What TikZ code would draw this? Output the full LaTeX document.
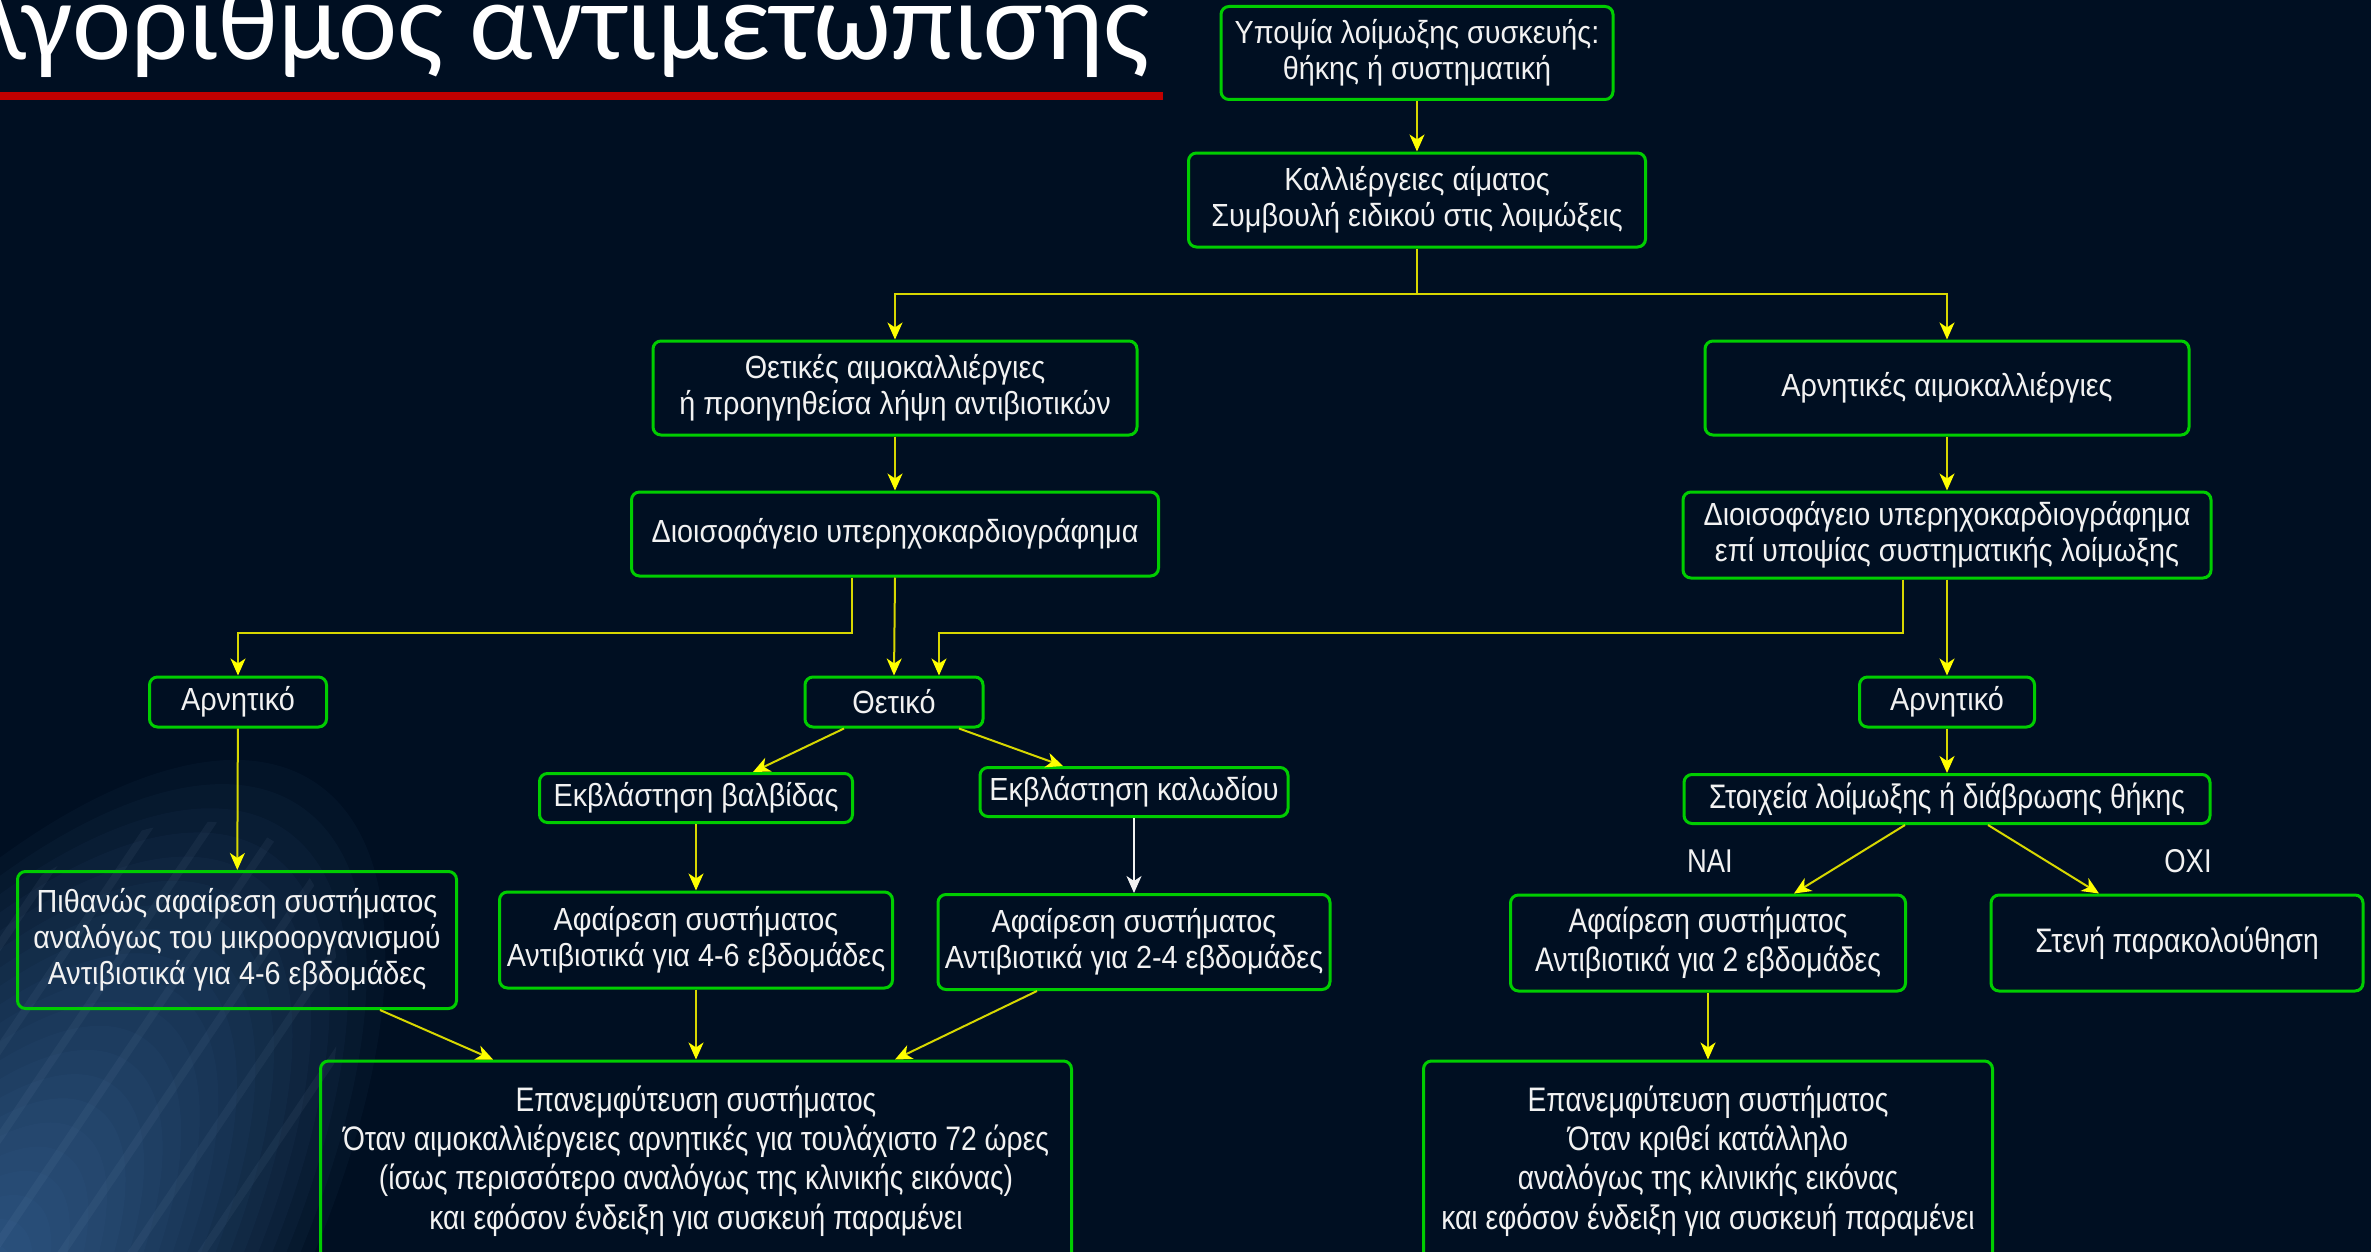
\documentclass[tikz,border=0pt]{standalone}
\usepackage{fontspec}
\setmainfont{Liberation Sans}[FakeStretch=0.9]
\newfontfamily\titlefont{Carlito}
\newfontfamily\narrowfont[FakeStretch=0.83]{Liberation Sans}
\usepackage{xcolor}
\definecolor{bgnavy}{RGB}{0,15,34}
\definecolor{glowblue}{RGB}{82,136,196}
\definecolor{boxgreen}{RGB}{0,205,0}
\definecolor{lineyellow}{RGB}{215,215,0}
\definecolor{headyellow}{RGB}{255,255,0}
\definecolor{textwhite}{RGB}{242,242,242}
\definecolor{titlered}{RGB}{192,0,0}
\usetikzlibrary{arrows.meta,positioning,calc}

\begin{document}
\begin{tikzpicture}[
  x=0.5pt, y=-0.5pt,
  every node/.style={text=textwhite,font=\fontsize{16}{18}\selectfont},
  flowbox/.style={draw=boxgreen,line width=1.5pt,rounded corners=4pt,align=center,inner sep=2pt},
  narrowbox/.style={flowbox,font=\narrowfont\fontsize{17}{19.6}\selectfont},
  boxsize/.style 2 args={minimum width=#1*0.5pt,minimum height=#2*0.5pt},
  arr/.style={draw=lineyellow,line width=1pt,-{Stealth[length=8.5pt,width=7.5pt,inset=2.5pt,color=headyellow]}},
  warr/.style={draw=textwhite,line width=1pt,-{Stealth[length=8.5pt,width=7.5pt,inset=2.5pt,color=textwhite]}},
  link/.style={draw=lineyellow,line width=1pt},
  glow/.style={rotate around={56:(-60,1340)}},
]
  \useasboundingbox (0,0) rectangle (2371,1252);

  % Background
  \fill[bgnavy] (0,0) rectangle (2371,1252);
  \foreach \k in {1,...,24}
    \fill[glowblue,opacity=0.045,glow] (-60,1340) ellipse ({28*\k} and {12*\k});
  \begin{scope}
    \clip[glow] (-60,1340) ellipse (600 and 260);
    \foreach \s/\l in {-300/900,-240/700,-170/850,-110/600,-40/760,30/520,100/640,170/420}
      \draw[glowblue!50!white,opacity=0.06,line width=4pt] (\s,1300) -- ++(-56:\l);
  \end{scope}

  % Title
  \node[font=\titlefont\fontsize{56}{58}\selectfont,text=white,anchor=base east,inner sep=0pt]
    (title) at (1150,60) {Αλγόριθμος αντιμετώπισης};
  \fill[titlered] (0,92) rectangle (1163,100);

  % Top of the tree
  \node[flowbox,boxsize={392}{93}] (susp) at (1417,53) {Υποψία λοίμωξης συσκευής:\\θήκης ή συστηματική};
  \node[flowbox,boxsize={457}{94}] (cult) at (1417,200) {Καλλιέργειες αίματος\\Συμβουλή ειδικού στις λοιμώξεις};
  \coordinate (split) at (1417,294);

  % Blood cultures
  \node[flowbox,boxsize={484}{94}] (pos) at (895,388) {Θετικές αιμοκαλλιέργιες\\ή προηγηθείσα λήψη αντιβιοτικών};
  \node[flowbox,boxsize={484}{94}] (neg) at (1947,388) {Αρνητικές αιμοκαλλιέργιες};

  % Echo
  \node[flowbox,boxsize={527}{84}] (teeL) at (895,534) {Διοισοφάγειο υπερηχοκαρδιογράφημα};
  \node[flowbox,boxsize={528}{86}] (teeR) at (1947,535) {Διοισοφάγειο υπερηχοκαρδιογράφημα\\επί υποψίας συστηματικής λοίμωξης};

  % Echo result
  \node[flowbox,boxsize={177}{50}] (negL) at (238,702) {Αρνητικό};
  \node[flowbox,boxsize={178}{50}] (posT) at (894,702) {Θετικό};
  \node[flowbox,boxsize={175}{50}] (negR) at (1947,702) {Αρνητικό};

  % Vegetations
  \node[flowbox,boxsize={313}{49}] (valv) at (696,798) {Εκβλάστηση βαλβίδας};
  \node[flowbox,boxsize={308}{49}] (lead) at (1134,792) {Εκβλάστηση καλωδίου};
  \node[narrowbox,boxsize={526}{49}] (evid) at (1947,799) {Στοιχεία λοίμωξης ή διάβρωσης θήκης};
  \node[font=\narrowfont\fontsize{16.5}{18}\selectfont] (yes) at (1710,861) {ΝΑΙ};
  \node[font=\narrowfont\fontsize{16.5}{18}\selectfont] (no) at (2188,861) {ΟΧΙ};

  % Treatment
  \node[flowbox,boxsize={439}{137}] (remL) at (237,940) {Πιθανώς αφαίρεση συστήματος\\αναλόγως του μικροοργανισμού\\Αντιβιοτικά για 4-6 εβδομάδες};
  \node[flowbox,boxsize={393}{96}] (rem46) at (696,940) {Αφαίρεση συστήματος\\Αντιβιοτικά για 4-6 εβδομάδες};
  \node[flowbox,boxsize={392}{95}] (rem24) at (1134,942) {Αφαίρεση συστήματος\\Αντιβιοτικά για 2-4 εβδομάδες};
  \node[narrowbox,boxsize={395}{96}] (remR) at (1708,943) {Αφαίρεση συστήματος\\Αντιβιοτικά για 2 εβδομάδες};
  \node[narrowbox,boxsize={372}{96}] (watch) at (2177,943) {Στενή παρακολούθηση};

  % Reimplantation
  \node[narrowbox,boxsize={751}{200}] (reimpL) at (696,1161) {Επανεμφύτευση συστήματος\\Όταν αιμοκαλλιέργειες αρνητικές για τουλάχιστο 72 ώρες\\(ίσως περισσότερο αναλόγως της κλινικής εικόνας)\\και εφόσον ένδειξη για συσκευή παραμένει};
  \node[narrowbox,boxsize={569}{200}] (reimpR) at (1708,1161) {Επανεμφύτευση συστήματος\\Όταν κριθεί κατάλληλο\\αναλόγως της κλινικής εικόνας\\και εφόσον ένδειξη για συσκευή παραμένει};

  % Connectors
  \draw[arr] (susp) -- (cult);
  \draw[link] (cult.south) -- (split);
  \draw[arr] (split) -| (pos.north);
  \draw[arr] (split) -| (neg.north);
  \draw[arr] (pos) -- (teeL);
  \draw[arr] (neg) -- (teeR);
  \draw[arr] ($(teeL.south)+(-43,0)$) -- ++(0,55) -| (negL.north);
  \draw[arr] (teeL.south) -- (posT.north);
  \draw[arr] ($(teeR.south)+(-44,0)$) -- ++(0,53) -| ($(posT.north)+(45,0)$);
  \draw[arr] (teeR) -- (negR);
  \draw[arr] (negL) -- (remL);
  \draw[arr] ($(posT.south)+(-50,0)$) -- ($(valv.north)+(57,0)$);
  \draw[arr] ($(posT.south)+(65,0)$) -- ($(lead.north)+(-71,0)$);
  \draw[arr] (valv) -- (rem46);
  \draw[warr] (lead) -- (rem24);
  \draw[arr] ($(remL.south)+(143,0)$) -- ($(reimpL.north)+(-203,0)$);
  \draw[arr] (rem46.south) -- (reimpL.north);
  \draw[arr] ($(rem24.south)+(-97,0)$) -- ($(reimpL.north)+(199,0)$);
  \draw[arr] (negR) -- (evid);
  \draw[arr] ($(evid.south)+(-42,0)$) -- ($(remR.north)+(86,0)$);
  \draw[arr] ($(evid.south)+(41,0)$) -- ($(watch.north)+(-78,0)$);
  \draw[arr] (remR.south) -- (reimpR.north);
\end{tikzpicture}
\end{document}
